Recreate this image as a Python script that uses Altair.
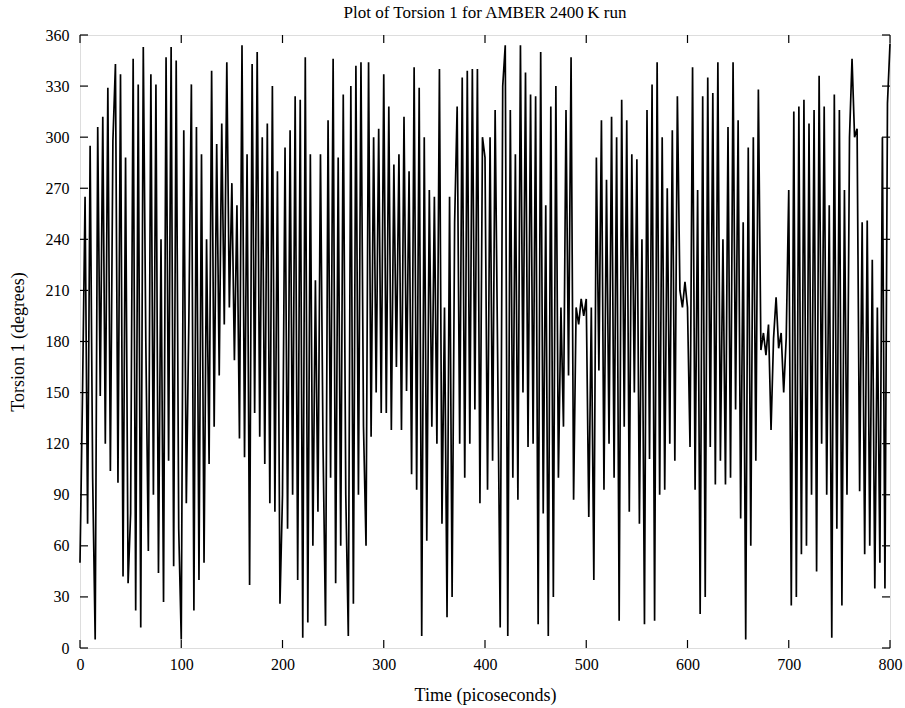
import altair as alt
import pandas as pd

# Torsion angle (degrees), sampled every 2.5 ps, one list per 100 ps of the run
torsion_000 = [50, 150, 265, 73, 295, 100, 5, 306, 148, 312,
               120, 329, 104, 298, 343, 97, 337, 42, 288, 38,
               79, 346, 22, 331, 12, 353, 180, 57, 337, 90,
               331, 44, 240, 27, 347, 110, 353, 48, 345, 70]
torsion_100 = [5, 304, 85, 192, 331, 22, 306, 40, 290, 50,
               240, 108, 339, 130, 296, 160, 308, 190, 344, 200,
               273, 169, 260, 123, 354, 112, 290, 37, 343, 138,
               350, 124, 300, 108, 308, 85, 330, 80, 280, 26]
torsion_200 = [90, 294, 70, 304, 90, 324, 40, 322, 6, 347,
               15, 290, 60, 216, 80, 290, 120, 13, 310, 100,
               346, 38, 288, 60, 325, 90, 7, 330, 26, 342,
               90, 344, 130, 60, 344, 124, 300, 150, 305, 138]
torsion_300 = [337, 138, 318, 128, 284, 165, 290, 128, 312, 151,
               280, 102, 341, 93, 329, 7, 300, 63, 269, 130,
               265, 120, 340, 73, 200, 18, 265, 30, 250, 318,
               120, 335, 100, 339, 120, 340, 140, 340, 85, 300]
torsion_400 = [288, 93, 300, 110, 316, 170, 12, 330, 354, 7,
               316, 100, 290, 87, 354, 150, 338, 118, 325, 120,
               324, 14, 350, 79, 260, 7, 318, 30, 330, 100,
               200, 130, 316, 160, 347, 87, 200, 190, 205, 195]
torsion_500 = [205, 77, 200, 40, 288, 163, 310, 93, 275, 120,
               312, 100, 300, 16, 322, 130, 310, 80, 290, 150,
               287, 73, 240, 14, 316, 111, 331, 16, 344, 90,
               300, 93, 270, 120, 304, 110, 324, 210, 200, 215]
torsion_600 = [200, 118, 341, 93, 269, 20, 324, 30, 335, 118,
               326, 96, 344, 110, 240, 96, 306, 100, 344, 140,
               310, 76, 250, 5, 294, 60, 300, 110, 328, 175,
               185, 172, 190, 128, 182, 206, 176, 185, 150, 182]
torsion_700 = [269, 25, 315, 30, 318, 55, 322, 60, 308, 90,
               316, 45, 336, 120, 318, 90, 260, 6, 325, 70,
               316, 25, 269, 90, 300, 346, 300, 305, 92, 250,
               55, 251, 60, 228, 35, 200, 50, 300, 35, 320,
               355]

time_step = 2.5  # ps between saved frames
x_ticks = [0, 100, 200, 300, 400, 500, 600, 700, 800]
y_ticks = [0, 30, 60, 90, 120, 150, 180, 210, 240, 270, 300, 330, 360]

torsion = (torsion_000 + torsion_100 + torsion_200 + torsion_300
           + torsion_400 + torsion_500 + torsion_600 + torsion_700)
df = pd.DataFrame({
    "time": [i * time_step for i in range(len(torsion))],
    "torsion": torsion,
})
xt = pd.DataFrame({"time": x_ticks})
yt = pd.DataFrame({"torsion": y_ticks})

W, H = 810, 613
FONT = "Liberation Serif"
TICK = 8

xscale = alt.Scale(domain=[0, 800], nice=False, zero=False)
yscale = alt.Scale(domain=[0, 360], nice=False, zero=False)

axis_common = dict(grid=False, domain=False, ticks=False, labelFlush=False,
                   labelFont=FONT, titleFont=FONT, labelFontSize=16,
                   titleFontSize=18, titleFontWeight="normal",
                   labelColor="black", titleColor="black")
xaxis = alt.Axis(values=x_ticks, title="Time (picoseconds)", labelPadding=8,
                 titlePadding=14, **axis_common)
yaxis = alt.Axis(values=y_ticks, title="Torsion 1 (degrees)", labelPadding=11,
                 titlePadding=18, **axis_common)

X = alt.X("time:Q", scale=xscale, axis=xaxis)
Y = alt.Y("torsion:Q", scale=yscale, axis=yaxis)

line = alt.Chart(df).mark_line(color="black", strokeWidth=1.7).encode(x=X, y=Y)

# inward-pointing ticks on all four sides of the frame
tick_bottom = alt.Chart(xt).mark_rule(color="black", strokeWidth=1.2).encode(
    x=X, y=alt.value(H), y2=alt.value(H - TICK))
tick_top = alt.Chart(xt).mark_rule(color="black", strokeWidth=1.2).encode(
    x=X, y=alt.value(0), y2=alt.value(TICK))
tick_left = alt.Chart(yt).mark_rule(color="black", strokeWidth=1.2).encode(
    y=Y, x=alt.value(0), x2=alt.value(TICK))
tick_right = alt.Chart(yt).mark_rule(color="black", strokeWidth=1.2).encode(
    y=Y, x=alt.value(W - TICK), x2=alt.value(W))

chart = alt.layer(line, tick_bottom, tick_top, tick_left, tick_right).properties(
    width=W, height=H,
    title=alt.TitleParams("Plot of Torsion 1 for AMBER 2400\u2009K run", font=FONT,
                          fontSize=17, fontWeight="normal", color="black",
                          anchor="middle", offset=5),
    autosize=alt.AutoSizeParams(type="none"),
    padding={"left": 80, "top": 35, "right": 15, "bottom": 60},
).configure_view(stroke="black", strokeWidth=1.5).configure(background="white")

chart.save("out.html", embed_options={"renderer": "svg", "actions": False})
